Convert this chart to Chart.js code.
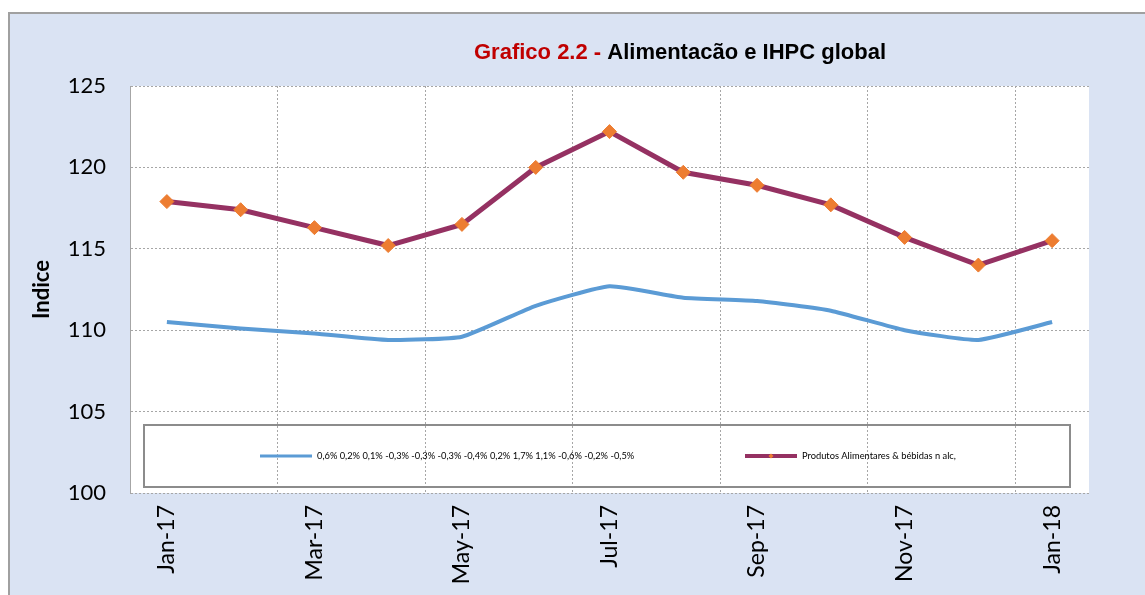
<!DOCTYPE html>
<html>
<head>
<meta charset="utf-8">
<script src="https://cdn.jsdelivr.net/npm/chart.js@4/dist/chart.umd.min.js"></script>
<style>
  html, body { margin: 0; padding: 0; background: #fff; }
  #wrap { width: 1145px; height: 595px; }
</style>
</head>
<body>
<div id="wrap"><canvas id="chart" width="1145" height="595"></canvas></div>
<script>
// Dados
const months = ["Jan-17", "Feb-17", "Mar-17", "Apr-17", "May-17", "Jun-17", "Jul-17",
                "Aug-17", "Sep-17", "Oct-17", "Nov-17", "Dec-17", "Jan-18"];
const ihpcGlobal = [110.5, 110.1, 109.8, 109.4, 109.6, 111.5, 112.7, 112.0, 111.8, 111.2, 110.0, 109.4, 110.5];
const alimentares = [117.9, 117.4, 116.3, 115.2, 116.5, 120.0, 122.2, 119.7, 118.9, 117.7, 115.7, 114.0, 115.5];
const ihpcLabel = "0,6% 0,2% 0,1% -0,3% -0,3% -0,3% -0,4% 0,2% 1,7% 1,1% -0,6% -0,2% -0,5%";
const alimLabel = "Produtos Alimentares & bébidas n alc,";
const yTicks = [100, 105, 110, 115, 120, 125];

const FONT = "Lato, 'Open Sans', sans-serif";
const GRID = "#a6a6a6";

// fundo azul claro com moldura
const backgroundPlugin = {
    id: "background",
    beforeDraw(chart) {
        const { ctx, chartArea } = chart;
        ctx.save();
        ctx.fillStyle = "#ffffff";
        ctx.fillRect(0, 0, chart.width, chart.height);
        ctx.fillStyle = "#dae3f3";
        ctx.fillRect(8, 12, chart.width - 8, chart.height - 12);
        ctx.strokeStyle = "#a0a0a0";
        ctx.lineWidth = 2;
        ctx.beginPath();
        ctx.moveTo(9, chart.height);
        ctx.lineTo(9, 13);
        ctx.lineTo(chart.width, 13);
        ctx.stroke();
        ctx.fillStyle = "#ffffff";
        ctx.fillRect(chartArea.left, chartArea.top, chartArea.right - chartArea.left, chartArea.bottom - chartArea.top);
        ctx.restore();
    }
};

// título em duas cores
const titlePlugin = {
    id: "twoColorTitle",
    afterDraw(chart) {
        const ctx = chart.ctx;
        const part1 = "Grafico 2.2 - ";
        const part2 = "Alimentacão e IHPC global";
        ctx.save();
        ctx.font = "bold 22px 'Liberation Sans', Arial, sans-serif";
        ctx.textBaseline = "alphabetic";
        const w1 = ctx.measureText(part1).width;
        const w2 = ctx.measureText(part2).width;
        let x = 680 - (w1 + w2) / 2;
        ctx.fillStyle = "#c00000";
        ctx.fillText(part1, x, 59);
        ctx.fillStyle = "#000000";
        ctx.fillText(part2, x + w1, 59);
        ctx.restore();
    }
};

// legenda dentro da área do gráfico
const legendBoxPlugin = {
    id: "legendBox",
    afterDatasetsDraw(chart) {
        const ctx = chart.ctx;
        const ds = chart.data.datasets;
        ctx.save();
        ctx.strokeStyle = "#8c8c8c";
        ctx.lineWidth = 2;
        ctx.strokeRect(144, 425, 926, 62);

        ctx.font = "9.3px " + FONT;
        ctx.textBaseline = "middle";
        ctx.fillStyle = "#000000";

        const items = [
            { x: 260, ds: ds[0] },
            { x: 745, ds: ds[1] }
        ];
        items.forEach(it => {
            ctx.strokeStyle = it.ds.borderColor;
            ctx.lineWidth = it.ds.borderWidth - 1;
            ctx.beginPath();
            ctx.moveTo(it.x, 456);
            ctx.lineTo(it.x + 52, 456);
            ctx.stroke();
            if (it.ds.pointRadius > 0) {
                ctx.fillStyle = it.ds.pointBackgroundColor;
                ctx.beginPath();
                ctx.moveTo(it.x + 26, 453.5);
                ctx.lineTo(it.x + 28.5, 456);
                ctx.lineTo(it.x + 26, 458.5);
                ctx.lineTo(it.x + 23.5, 456);
                ctx.closePath();
                ctx.fill();
            }
            ctx.fillStyle = "#000000";
            ctx.fillText(it.ds.label, it.x + 57, 456);
        });
        ctx.restore();
    }
};

new Chart(document.getElementById("chart"), {
    type: "line",
    data: {
        labels: months,
        datasets: [
            {
                label: ihpcLabel,
                data: ihpcGlobal,
                borderColor: "#5b9bd5",
                borderWidth: 4,
                pointRadius: 0,
                tension: 0.15
            },
            {
                label: alimLabel,
                data: alimentares,
                borderColor: "#953162",
                borderWidth: 5,
                pointStyle: "rectRot",
                pointRadius: 7,
                pointHoverRadius: 7,
                pointBackgroundColor: "#ed7d31",
                pointBorderColor: "#ed7d31",
                pointBorderWidth: 1,
                tension: 0
            }
        ]
    },
    options: {
        responsive: false,
        animation: false,
        layout: { padding: { left: 8, top: 86, right: 56, bottom: 0 } },
        plugins: {
            legend: { display: false },
            title: { display: false },
            tooltip: { enabled: false }
        },
        scales: {
            x: {
                offset: true,
                afterFit(scale) { scale.height = 102; },
                grid: {
                    offset: true,
                    drawTicks: false,
                    lineWidth: 1,
                    color: ctx => (ctx.index > 0 && ctx.index % 2 === 0) ? GRID : "rgba(0,0,0,0)"
                },
                border: { display: false, dash: [2, 2] },
                ticks: {
                    autoSkip: false,
                    minRotation: 90,
                    maxRotation: 90,
                    padding: 12,
                    color: "#000000",
                    font: { family: FONT, size: 23 },
                    callback(value, index) {
                        return index % 2 === 0 ? months[index] : "";
                    }
                }
            },
            y: {
                min: 100,
                max: 125,
                afterFit(scale) { scale.width = 122; },
                afterBuildTicks(scale) {
                    scale.ticks = yTicks.map(v => ({ value: v }));
                },
                grid: {
                    drawTicks: false,
                    color: GRID,
                    lineWidth: 1
                },
                border: { display: true, color: "#a6a6a6", width: 1, dash: [2, 2] },
                ticks: {
                    padding: 24,
                    color: "#000000",
                    font: { family: FONT, size: 22 }
                },
                title: {
                    display: true,
                    text: "Indice",
                    color: "#000000",
                    font: { family: FONT, size: 22, weight: "bold" },
                    padding: { top: 21, bottom: 0 }
                }
            }
        }
    },
    plugins: [backgroundPlugin, titlePlugin, legendBoxPlugin]
});
</script>
</body>
</html>
